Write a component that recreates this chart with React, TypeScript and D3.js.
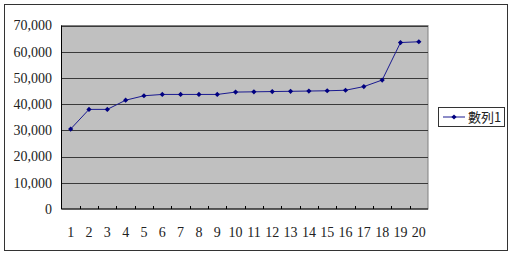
import React from "react";
import * as d3 from "d3";

const categories = ["1","2","3","4","5","6","7","8","9","10","11","12","13","14","15","16","17","18","19","20"];
const values = [30500, 38000, 38000, 41500, 43200, 43700, 43700, 43700, 43700, 44600, 44700, 44800, 44900, 45000, 45100, 45300, 46700, 49200, 63500, 63800];
const yTicks = [0, 10000, 20000, 30000, 40000, 50000, 60000, 70000];
const seriesName = "數列1";

const W = 512, H = 255;
const plot = { left: 61.5, right: 428, top: 25.5, bottom: 209 };

export default function App() {
  const x = d3.scaleBand().domain(categories).range([plot.left, plot.right]);
  const y = d3.scaleLinear().domain([0, 70000]).range([plot.bottom, plot.top]);
  const line = d3.line<number>()
    .x((_, i) => (x(categories[i]) as number) + x.bandwidth() / 2)
    .y((d) => y(d));
  const fmt = d3.format(",");
  const diamond = (cx: number, cy: number, r = 2.6) =>
    `M${cx},${cy - r}L${cx + r},${cy}L${cx},${cy + r}L${cx - r},${cy}Z`;
  const boundaries = d3.range(1, categories.length).map((i) => plot.left + i * x.step());

  return (
    <svg width={W} height={H} style={{ position: "absolute", left: 0, top: 0, background: "#fff" }}>
      <rect x={4.5} y={4.5} width={503} height={246} fill="#fff" stroke="#333" strokeWidth={1} />
      <rect x={plot.left} y={plot.top} width={plot.right - plot.left} height={plot.bottom - plot.top} fill="#c0c0c0" stroke="#808080" strokeWidth={1} />
      {yTicks.filter((t) => t > 0).map((t) => (
        <line key={t} x1={plot.left} x2={plot.right} y1={Math.round(y(t)) + 0.5} y2={Math.round(y(t)) + 0.5} stroke="#3a3a3a" strokeWidth={1} />
      ))}
      <line x1={plot.left} x2={plot.left} y1={plot.top} y2={plot.bottom} stroke="#000" strokeWidth={1} />
      <line x1={plot.left} x2={plot.right} y1={plot.bottom} y2={plot.bottom} stroke="#000" strokeWidth={1} />
      {boundaries.map((b, i) => (
        <line key={i} x1={Math.round(b) + 0.5} x2={Math.round(b) + 0.5} y1={plot.bottom} y2={plot.bottom - 3} stroke="#000" strokeWidth={1} />
      ))}
      {yTicks.map((t) => (
        <text key={t} x={52} y={y(t)} dy="0.35em" textAnchor="end" fontFamily="Liberation Serif, serif" fontSize={14} fill="#222">
          {fmt(t)}
        </text>
      ))}
      {categories.map((c) => (
        <text key={c} x={(x(c) as number) + x.bandwidth() / 2} y={232} dy="0.35em" textAnchor="middle" fontFamily="Liberation Serif, serif" fontSize={14} fill="#222">
          {c}
        </text>
      ))}
      <path d={line(values) || ""} fill="none" stroke="#1a1a90" strokeWidth={1} />
      {values.map((v, i) => (
        <path key={i} d={diamond((x(categories[i]) as number) + x.bandwidth() / 2, y(v))} fill="#000080" />
      ))}
      <rect x={438.5} y={107.5} width={66} height={19} fill="#fff" stroke="#333" strokeWidth={1} />
      <line x1={443} x2={465} y1={117} y2={117} stroke="#1a1a90" strokeWidth={1} />
      <path d={diamond(454, 117)} fill="#000080" />
      <text x={468} y={117} dy="0.35em" fontFamily="Noto Sans CJK TC, sans-serif" fontSize={13} fill="#222">
        {seriesName}
      </text>
    </svg>
  );
}
